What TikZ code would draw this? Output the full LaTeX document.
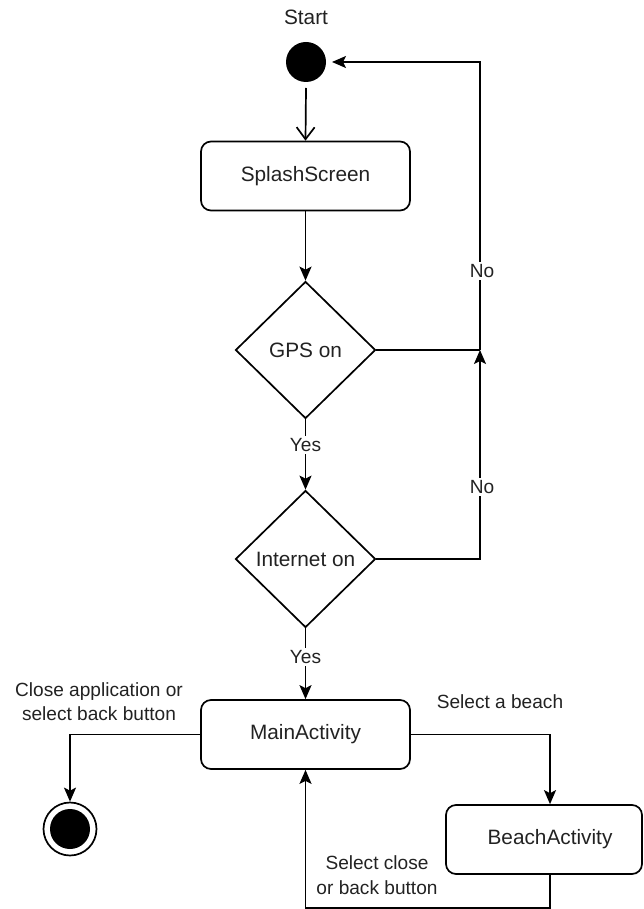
\documentclass[tikz,border=0pt]{standalone}
\usepackage{fontspec}
\setmainfont{Liberation Sans}
\usetikzlibrary{shapes.geometric,arrows.meta}
\definecolor{txt}{HTML}{222222}
\tikzset{
  every node/.style={text=txt},
  conn/.style={line width=1.7pt, draw=black},
  arr/.style={conn, -{Stealth[length=14pt,width=12pt,inset=3pt]}},
  openarr/.style={conn, -{Straight Barb[length=12pt,width=18pt,line width=1.7pt]}},
  statebox/.style={draw, line width=1.7pt, rounded corners=10pt, minimum width=209pt, minimum height=69pt, font=\fontsize{20.8}{24}\selectfont, inner sep=0pt},
  decision/.style={draw, line width=1.7pt, diamond, minimum width=140pt, minimum height=137pt, inner sep=0pt, font=\fontsize{20.8}{24}\selectfont},
  lbl/.style={font=\fontsize{19.1}{23.5}\selectfont, align=center, inner sep=1pt},
  edgelbl/.style={lbl, fill=white, inner sep=2pt},
}
\begin{document}
\begin{tikzpicture}[x=1pt,y=-1pt]
\useasboundingbox (0,0) rectangle (643,909);
\clip (0,0) rectangle (643,909);
% nodes
\node[font=\fontsize{20.8}{24}\selectfont] (startlbl) at (306,17) {Start};
\node[circle, fill=black, minimum size=40pt, inner sep=0pt, outer sep=6pt] (start) at (306,62) {};
\node[statebox] (splash) at (305.5,176) {SplashScreen};
\node[decision] (gps) at (305.5,350) {GPS on};
\node[decision] (inet) at (305.5,559) {Internet on};
\node[statebox] (main) at (305.5,734.5) {MainActivity};
\node[statebox, minimum width=196pt] (beach) at (544,839.5) {\makebox[0pt]{\hspace{12pt}BeachActivity}};
\node[circle, draw, line width=1.7pt, fill=white, minimum size=53pt, inner sep=0pt,
      path picture={\fill[black] (path picture bounding box.center) circle (20pt);}] (end) at (70,829) {};
\coordinate (j1) at (480,350);
\coordinate (j2) at (480,62);
\coordinate (j3) at (480,559);
\coordinate (m1) at (70,734.5);
\coordinate (b1) at (550,734.5);
\coordinate (r1) at (550,908);
\coordinate (r2) at (305.5,908);
% connectors
\draw[openarr] (start.south) -- (splash.north);
\draw[arr] (splash.south) -- (gps.north);
\draw[conn] (gps.east) -- (j1);
\draw[arr] (j1) -- (j2) -- (start.east);
\draw[arr] (gps.south) -- (inet.north);
\draw[arr] (inet.east) -- (j3) -- (j1);
\draw[arr] (inet.south) -- (main.north);
\draw[arr] (main.west) -- (m1) -- (end.north);
\draw[arr] (main.east) -- (b1) -- (beach.north -| b1);
\draw[arr] (beach.south -| r1) -- (r1) -- (r2) -- (main.south);
% labels
\node[edgelbl] (yes1) at (305.5,445) {Yes};
\node[edgelbl] (yes2) at (305.5,657) {Yes};
\node[edgelbl] (no1) at (482,271) {No};
\node[edgelbl] (no2) at (482,487) {No};
\node[lbl] (closelbl) at (99,701.5) {Close application or\\select back button};
\node[lbl] (beachlbl) at (500,701.5) {Select a beach};
\node[lbl, font=\fontsize{19.1}{25}\selectfont] (backlbl) at (377,875.5) {Select close\\or back button};
\end{tikzpicture}
\end{document}
